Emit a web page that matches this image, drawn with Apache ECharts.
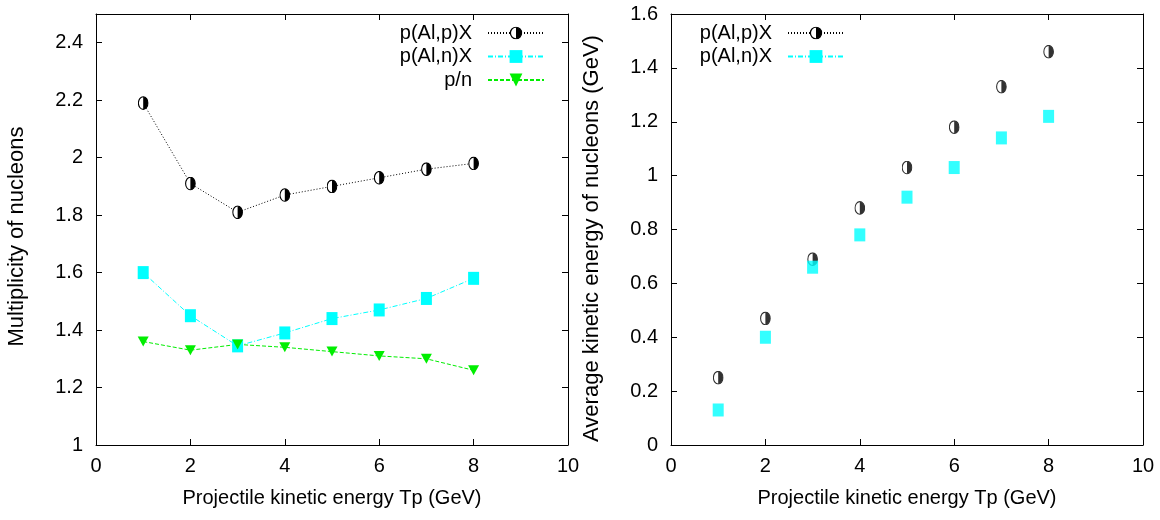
<!DOCTYPE html>
<html>
<head>
<meta charset="utf-8">
<script src="https://cdn.jsdelivr.net/npm/echarts@6/dist/echarts.min.js"></script>
<style>
  html, body { margin: 0; padding: 0; background: #fff; }
  #chart { width: 1160px; height: 520px; }
</style>
</head>
<body>
<div id="chart"></div>
<script>
// Projectile kinetic energy Tp (GeV)
const energies = [1, 2, 3, 4, 5, 6, 7, 8];

// Multiplicity of nucleons
const multP = [2.19, 1.91, 1.81, 1.87, 1.90, 1.93, 1.96, 1.98];
const multN = [1.60, 1.45, 1.345, 1.39, 1.44, 1.47, 1.51, 1.58];
const ratioPN = [1.36, 1.33, 1.35, 1.34, 1.325, 1.31, 1.30, 1.26];

// Average kinetic energy of nucleons (GeV)
const ekinP = [0.25, 0.47, 0.69, 0.88, 1.03, 1.18, 1.33, 1.46];
const ekinN = [0.13, 0.40, 0.66, 0.78, 0.92, 1.03, 1.14, 1.22];

const seriesNames = ['p(Al,p)X', 'p(Al,n)X', 'p/n'];

const FONT = '"Liberation Sans", Arial, Helvetica, sans-serif';
const FS = 20;

// half-filled circle: open left half, solid right half
const halfSvg = '<svg xmlns="http://www.w3.org/2000/svg" width="22" height="28" viewBox="0 0 22 28">' +
  '<ellipse cx="11" cy="14" rx="9.6" ry="12.6" fill="#ffffff" stroke="#000000" stroke-width="2.2"/>' +
  '<path d="M11 1.4 A9.6 12.6 0 0 1 11 26.6 Z" fill="#000000"/></svg>';
const halfCircle = 'image://data:image/svg+xml;charset=utf-8,' + encodeURIComponent(halfSvg);

const pairs = (xs, ys) => xs.map((x, i) => [x, ys[i]]);

function xAxes(gridIndex) {
  const common = {
    type: 'value', gridIndex, min: 0, max: 10, interval: 2,
    axisLine: { show: true, onZero: false, lineStyle: { color: '#000', width: 1 } },
    axisTick: { show: true, inside: true, length: 6, lineStyle: { color: '#000', width: 1 } },
    splitLine: { show: false }
  };
  return [
    Object.assign({}, common, {
      position: 'bottom',
      axisLabel: { color: '#000', fontFamily: FONT, fontSize: FS, margin: 11 },
      name: 'Projectile kinetic energy Tp (GeV)',
      nameLocation: 'middle', nameGap: 43,
      nameTextStyle: { color: '#000', fontFamily: FONT, fontSize: FS }
    }),
    Object.assign({}, common, { position: 'top', axisLabel: { show: false } })
  ];
}

function yAxes(gridIndex, min, max, name, shift) {
  const common = {
    type: 'value', gridIndex, min, max, interval: 0.2,
    axisLine: { show: true, onZero: false, lineStyle: { color: '#000', width: 1 } },
    axisTick: { show: true, inside: true, length: 6, lineStyle: { color: '#000', width: 1 } },
    splitLine: { show: false }
  };
  return [
    Object.assign({}, common, {
      position: 'left',
      axisLabel: {
        color: '#000', fontFamily: FONT, fontSize: FS, margin: 13,
        showMaxLabel: max === 1.6,
        formatter: v => (Math.round(v * 10) / 10).toString()
      },
      name, nameLocation: 'middle', nameGap: 68,
      nameTextStyle: { color: '#000', fontFamily: FONT, fontSize: 22, padding: [0, shift, 0, 0] }
    }),
    Object.assign({}, common, { position: 'right', axisLabel: { show: false } })
  ];
}

const legendBase = {
  orient: 'vertical', align: 'right', top: 18,
  itemWidth: 56, itemHeight: 16, itemGap: 3.5,
  textStyle: { color: '#000', fontFamily: FONT, fontSize: FS, padding: [0, 11, 0, 0] },
  selectedMode: false
};

const option = {
  backgroundColor: '#ffffff',
  animation: false,
  grid: [
    { left: 96, right: 1160 - 568, top: 14, bottom: 75, containLabel: false, outerBoundsMode: 'none' },
    { left: 671, right: 1160 - 1143, top: 14, bottom: 75, containLabel: false, outerBoundsMode: 'none' }
  ],
  legend: [
    Object.assign({}, legendBase, { right: 610, data: seriesNames }),
    Object.assign({}, legendBase, { right: 310, data: seriesNames.slice(0, 2) })
  ],
  xAxis: [...xAxes(0), ...xAxes(1)],
  yAxis: [
    ...yAxes(0, 1, 2.5, 'Multiplicity of nucleons', 14),
    ...yAxes(1, 0, 1.6, 'Average kinetic energy of nucleons (GeV)', 18)
  ],
  series: [
    {
      name: seriesNames[0], type: 'line', xAxisIndex: 0, yAxisIndex: 0,
      data: pairs(energies, multP),
      symbol: halfCircle, symbolSize: [11, 14],
      lineStyle: { color: '#000', width: 1, type: [1, 2] },
      itemStyle: { color: '#000' }
    },
    {
      name: seriesNames[1], type: 'line', xAxisIndex: 0, yAxisIndex: 0,
      data: pairs(energies, multN),
      symbol: 'rect', symbolSize: [11, 13],
      lineStyle: { color: '#00ffff', width: 1, type: [5, 2, 1, 2] },
      itemStyle: { color: '#00ffff' }
    },
    {
      name: seriesNames[2], type: 'line', xAxisIndex: 0, yAxisIndex: 0,
      data: pairs(energies, ratioPN),
      symbol: 'triangle', symbolRotate: 180, symbolSize: [11, 10],
      lineStyle: { color: '#00ee00', width: 1, type: [4, 2] },
      itemStyle: { color: '#00ee00' }
    },
    {
      name: seriesNames[0], type: 'scatter', xAxisIndex: 2, yAxisIndex: 2,
      data: pairs(energies, ekinP),
      symbol: halfCircle, symbolSize: [11, 14],
      itemStyle: { color: '#000' }
    },
    {
      name: seriesNames[1], type: 'scatter', xAxisIndex: 2, yAxisIndex: 2,
      data: pairs(energies, ekinN),
      symbol: 'rect', symbolSize: [11, 13],
      itemStyle: { color: '#00ffff' }
    }
  ]
};

const chart = echarts.init(document.getElementById('chart'), null, { renderer: 'canvas' });
chart.setOption(option);
</script>
</body>
</html>
